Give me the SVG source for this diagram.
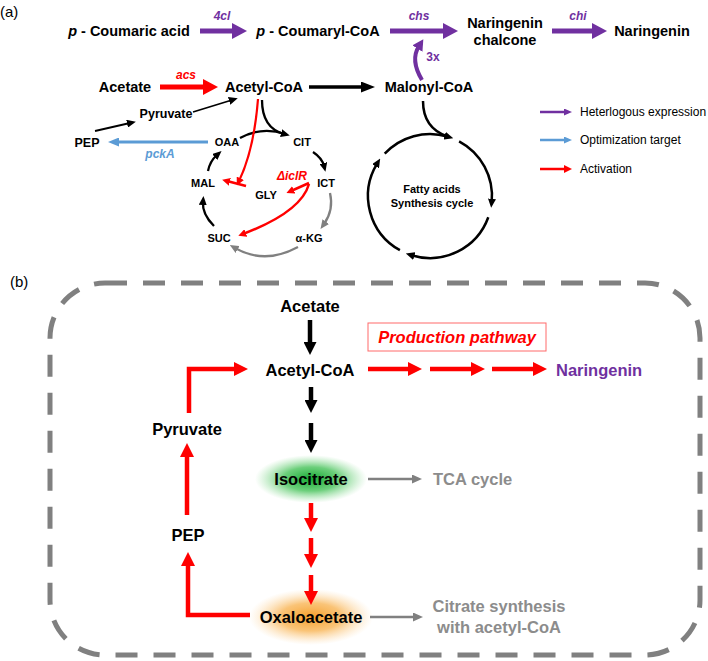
<svg xmlns="http://www.w3.org/2000/svg" width="708" height="661" viewBox="0 0 708 661">
<style>
text{font-family:"Liberation Sans",Arial,sans-serif;font-weight:bold;fill:#000}
.t1{font-size:14.5px}
.t2{font-size:11px}
.t3{font-size:16.5px}
.lab{font-size:12px;font-style:italic}
.leg{font-size:12px;font-weight:normal}
.pan{font-size:15px;font-weight:normal}
.pu{fill:#7030A0}
.rd{fill:#FF0000}
.bl{fill:#5B9BD5}
.gy{fill:#8C8C8C}
.c{fill:none}
.sp{stroke:#7030A0}
.sr{stroke:#FF0000}
.sk{stroke:#000}
.sb{stroke:#5B9BD5}
.sg{stroke:#808080}
</style>
<defs>
<marker id="hP" viewBox="0 0 15 16" markerWidth="15" markerHeight="16" refX="4" refY="8" orient="auto" markerUnits="userSpaceOnUse"><path d="M0,0L15,8L0,16z" fill="#7030A0"/></marker>
<marker id="hP2" viewBox="0 0 11 12" markerWidth="11" markerHeight="12" refX="3" refY="6" orient="auto" markerUnits="userSpaceOnUse"><path d="M0,0L11,6L0,12z" fill="#7030A0"/></marker>
<marker id="hRa" viewBox="0 0 15 16" markerWidth="15" markerHeight="16" refX="4" refY="8" orient="auto" markerUnits="userSpaceOnUse"><path d="M0,0L15,8L0,16z" fill="#FF0000"/></marker>
<marker id="hK" viewBox="0 0 14 11" markerWidth="14" markerHeight="11" refX="3" refY="5.5" orient="auto" markerUnits="userSpaceOnUse"><path d="M0,0L14,5.5L0,11z" fill="#000"/></marker>
<marker id="hk" viewBox="0 0 9 8" markerWidth="9" markerHeight="8" refX="3" refY="4" orient="auto" markerUnits="userSpaceOnUse"><path d="M0,0L9,4L0,8z" fill="#000"/></marker>
<marker id="hg" viewBox="0 0 9 8" markerWidth="9" markerHeight="8" refX="3" refY="4" orient="auto" markerUnits="userSpaceOnUse"><path d="M0,0L9,4L0,8z" fill="#808080"/></marker>
<marker id="hr" viewBox="0 0 8 8" markerWidth="8" markerHeight="8" refX="3" refY="4" orient="auto" markerUnits="userSpaceOnUse"><path d="M0,0L8,4L0,8z" fill="#FF0000"/></marker>
<marker id="hp" viewBox="0 0 8 7" markerWidth="8" markerHeight="7" refX="3" refY="3.5" orient="auto" markerUnits="userSpaceOnUse"><path d="M0,0L8,3.5L0,7z" fill="#7030A0"/></marker>
<marker id="hb" viewBox="0 0 8 7" markerWidth="8" markerHeight="7" refX="3" refY="3.5" orient="auto" markerUnits="userSpaceOnUse"><path d="M0,0L8,3.5L0,7z" fill="#5B9BD5"/></marker>
<marker id="hB" viewBox="0 0 11 9" markerWidth="11" markerHeight="9" refX="3" refY="4.5" orient="auto" markerUnits="userSpaceOnUse"><path d="M0,0L11,4.5L0,9z" fill="#5B9BD5"/></marker>
<marker id="hRb" viewBox="0 0 14 14" markerWidth="14" markerHeight="14" refX="3" refY="7" orient="auto" markerUnits="userSpaceOnUse"><path d="M0,0L14,7L0,14z" fill="#FF0000"/></marker>
<marker id="hKb" viewBox="0 0 13 13" markerWidth="13" markerHeight="13" refX="3" refY="6.5" orient="auto" markerUnits="userSpaceOnUse"><path d="M0,0L13,6.5L0,13z" fill="#000"/></marker>
<marker id="hG" viewBox="0 0 10 9" markerWidth="10" markerHeight="9" refX="3" refY="4.5" orient="auto" markerUnits="userSpaceOnUse"><path d="M0,0L10,4.5L0,9z" fill="#808080"/></marker>
<radialGradient id="gGreen"><stop offset="0" stop-color="#12a830" stop-opacity="1"/><stop offset="0.5" stop-color="#3cbf50" stop-opacity="0.75"/><stop offset="1" stop-color="#7fd88a" stop-opacity="0"/></radialGradient>
<radialGradient id="gOrange"><stop offset="0" stop-color="#f59a20" stop-opacity="0.95"/><stop offset="0.5" stop-color="#f8b04a" stop-opacity="0.75"/><stop offset="1" stop-color="#fcd49a" stop-opacity="0"/></radialGradient>
</defs>
<rect width="708" height="661" fill="#fff"/>

<text class="pan" x="0" y="17">(a)</text>
<text class="pan" x="10" y="287">(b)</text>

<g id="frame-b">
<rect x="50" y="283" width="650" height="372" rx="55" ry="55" fill="none" stroke="#808080" stroke-width="5" stroke-dasharray="22 16"/>
</g>

<g id="glows">
<ellipse cx="311" cy="479" rx="56" ry="24" fill="url(#gGreen)"/>
<ellipse cx="311" cy="617" rx="62" ry="28" fill="url(#gOrange)"/>
</g>

<g id="connectors" fill="none">
<path class="c sp" stroke-width="5" d="M200,31H236" marker-end="url(#hP)"/>
<path class="c sp" stroke-width="5" d="M390,31H447" marker-end="url(#hP)"/>
<path class="c sp" stroke-width="5" d="M552,31H596" marker-end="url(#hP)"/>
<path class="c sp" stroke-width="4" d="M422,80Q410,60 419,46" marker-end="url(#hP2)"/>
<path class="c sr" stroke-width="5" d="M160,87H207" marker-end="url(#hRa)"/>
<path class="c sk" stroke-width="3.5" d="M309,87H364" marker-end="url(#hK)"/>
<path class="c sk" stroke-width="1.8" d="M193,112L232,100" marker-end="url(#hk)"/>
<path class="c sk" stroke-width="1.8" d="M95,131L130,123" marker-end="url(#hk)"/>
<path class="c sb" stroke-width="3" d="M208,142H116" marker-end="url(#hB)"/>
<path class="c sk" stroke-width="2.3" d="M262,100Q262,128 284,134" marker-end="url(#hk)"/>
<path class="c sk" stroke-width="2.3" d="M240,138Q262,126 285,134"/>
<path class="c sk" stroke-width="2.3" d="M313,152Q322,158 324,166" marker-end="url(#hk)"/>
<path class="c sg" stroke-width="2.3" d="M330,193Q334,210 324,224" marker-end="url(#hg)"/>
<path class="c sg" stroke-width="2.3" d="M298,247Q265,265 235,248" marker-end="url(#hg)"/>
<path class="c sk" stroke-width="2.3" d="M214,226Q202,214 203,202" marker-end="url(#hk)"/>
<path class="c sk" stroke-width="2.3" d="M208,171Q210,161 217,155" marker-end="url(#hk)"/>
<path class="c sr" stroke-width="2.2" d="M258,99Q254,150 239,181" marker-end="url(#hr)"/>
<path class="c sr" stroke-width="2.5" d="M246,186L227,181" marker-end="url(#hr)"/>
<path class="c sr" stroke-width="2.5" d="M309,183L291,191" marker-end="url(#hr)"/>
<path class="c sr" stroke-width="2.5" d="M309,184Q301,212 243,234" marker-end="url(#hr)"/>
<path class="c sk" stroke-width="2.5" d="M459.1,141.3A62,62 0 0 1 491.7,201.8" marker-end="url(#hk)"/>
<path class="c sk" stroke-width="2.5" d="M488.3,217.2A62,62 0 0 1 411.5,255.2" marker-end="url(#hk)"/>
<path class="c sk" stroke-width="2.5" d="M399.9,250.2A62,62 0 0 1 377.1,163.7" marker-end="url(#hk)"/>
<path class="c sk" stroke-width="2.5" d="M384.7,153.7A62,62 0 0 1 447.5,136.5" marker-end="url(#hk)"/>
<path class="c sk" stroke-width="2.5" d="M423,101Q423,128 447.5,136.5"/>
<path class="c sp" stroke-width="2.5" d="M540,112H567" marker-end="url(#hp)"/>
<path class="c sb" stroke-width="2.5" d="M540,140H567" marker-end="url(#hb)"/>
<path class="c sr" stroke-width="2.5" d="M540,169H567" marker-end="url(#hr)"/>
<path class="c sk" stroke-width="4.5" d="M310,320V345" marker-end="url(#hKb)"/>
<path class="c sk" stroke-width="4.5" d="M311,387V403" marker-end="url(#hKb)"/>
<path class="c sk" stroke-width="4.5" d="M311,423V443" marker-end="url(#hKb)"/>
<path class="c sr" stroke-width="4.5" d="M368,369H411" marker-end="url(#hRb)"/>
<path class="c sr" stroke-width="4.5" d="M430,369H474" marker-end="url(#hRb)"/>
<path class="c sr" stroke-width="4.5" d="M492,369H536" marker-end="url(#hRb)"/>
<path class="c sr" stroke-width="4.5" d="M189,413V369H237" marker-end="url(#hRb)"/>
<path class="c sr" stroke-width="4.5" d="M187,515V454" marker-end="url(#hRb)"/>
<path class="c sr" stroke-width="4.5" d="M250,615H188V563" marker-end="url(#hRb)"/>
<path class="c sr" stroke-width="4.5" d="M311,503V521" marker-end="url(#hRb)"/>
<path class="c sr" stroke-width="4.5" d="M311,538V557" marker-end="url(#hRb)"/>
<path class="c sr" stroke-width="4.5" d="M311,575V594" marker-end="url(#hRb)"/>
<path class="c sg" stroke-width="2.5" d="M368,479H415" marker-end="url(#hG)"/>
<path class="c sg" stroke-width="2.5" d="M370,617H416" marker-end="url(#hG)"/>
</g>

<g id="edge-labels">
<text class="lab pu" x="222" y="20" text-anchor="middle">4cl</text>
<text class="lab pu" x="419" y="20" text-anchor="middle">chs</text>
<text class="lab pu" x="578" y="20" text-anchor="middle">chi</text>
<text class="pu" x="433" y="61" text-anchor="middle" style="font-size:12px">3x</text>
<text class="lab rd" x="186" y="79" text-anchor="middle">acs</text>
<text class="lab bl" x="160" y="158" text-anchor="middle">pckA</text>
<text class="lab rd" x="292" y="180" text-anchor="middle">ΔiclR</text>
</g>

<g id="n-coumaric"><text class="t1" x="129" y="36" text-anchor="middle"><tspan font-style="italic">p</tspan> - Coumaric acid</text></g>
<g id="n-coumaryl"><text class="t1" x="318" y="36" text-anchor="middle"><tspan font-style="italic">p</tspan> - Coumaryl-CoA</text></g>
<g id="n-chalcone"><text class="t1" x="505" y="28" text-anchor="middle">Naringenin</text><text class="t1" x="505" y="45" text-anchor="middle">chalcone</text></g>
<g id="n-naringenin-a"><text class="t1" x="652" y="36" text-anchor="middle">Naringenin</text></g>
<g id="n-acetate-a"><text class="t1" x="125" y="92" text-anchor="middle">Acetate</text></g>
<g id="n-acetylcoa-a"><text class="t1" x="264" y="92" text-anchor="middle">Acetyl-CoA</text></g>
<g id="n-malonyl"><text class="t1" x="429" y="92" text-anchor="middle">Malonyl-CoA</text></g>
<g id="n-pyruvate-a"><text class="t2" x="166" y="118" text-anchor="middle" style="font-size:12.5px">Pyruvate</text></g>
<g id="n-pep-a"><text class="t2" x="87" y="147" text-anchor="middle" style="font-size:12.5px">PEP</text></g>
<g id="n-oaa"><text class="t2" x="227" y="146" text-anchor="middle">OAA</text></g>
<g id="n-cit"><text class="t2" x="302" y="146" text-anchor="middle">CIT</text></g>
<g id="n-ict"><text class="t2" x="326" y="187" text-anchor="middle">ICT</text></g>
<g id="n-akg"><text class="t2" x="309" y="242" text-anchor="middle">α-KG</text></g>
<g id="n-suc"><text class="t2" x="219" y="242" text-anchor="middle">SUC</text></g>
<g id="n-mal"><text class="t2" x="203" y="187" text-anchor="middle">MAL</text></g>
<g id="n-gly"><text class="t2" x="266" y="199" text-anchor="middle">GLY</text></g>
<g id="n-fatty"><text class="t2" x="432" y="193" text-anchor="middle">Fatty acids</text><text class="t2" x="432" y="207" text-anchor="middle">Synthesis cycle</text></g>

<g id="legend">
<text class="leg" x="580" y="116">Heterlogous expression</text>
<text class="leg" x="580" y="144">Optimization target</text>
<text class="leg" x="580" y="173">Activation</text>
</g>

<g id="n-acetate-b"><text class="t3" x="310" y="312" text-anchor="middle">Acetate</text></g>
<g id="n-acetylcoa-b"><text class="t3" x="310" y="376" text-anchor="middle">Acetyl-CoA</text></g>
<g id="n-production"><rect x="368" y="323" width="178" height="28" fill="#fff" stroke="#ff6a6a" stroke-width="1"/><text class="t3 rd" x="457" y="343" text-anchor="middle" font-style="italic">Production pathway</text></g>
<g id="n-naringenin-b"><text class="t3 pu" x="556" y="376">Naringenin</text></g>
<g id="n-pyruvate-b"><text class="t3" x="187" y="435" text-anchor="middle">Pyruvate</text></g>
<g id="n-pep-b"><text class="t3" x="188" y="541" text-anchor="middle">PEP</text></g>
<g id="n-isocitrate"><text class="t3" x="311" y="485" text-anchor="middle">Isocitrate</text></g>
<g id="n-tca"><text class="t3 gy" x="433" y="485">TCA cycle</text></g>
<g id="n-oxaloacetate"><text class="t3" x="311" y="623" text-anchor="middle">Oxaloacetate</text></g>
<g id="n-citrate"><text class="t3 gy" x="499" y="612" text-anchor="middle">Citrate synthesis</text><text class="t3 gy" x="499" y="633" text-anchor="middle">with acetyl-CoA</text></g>
</svg>
